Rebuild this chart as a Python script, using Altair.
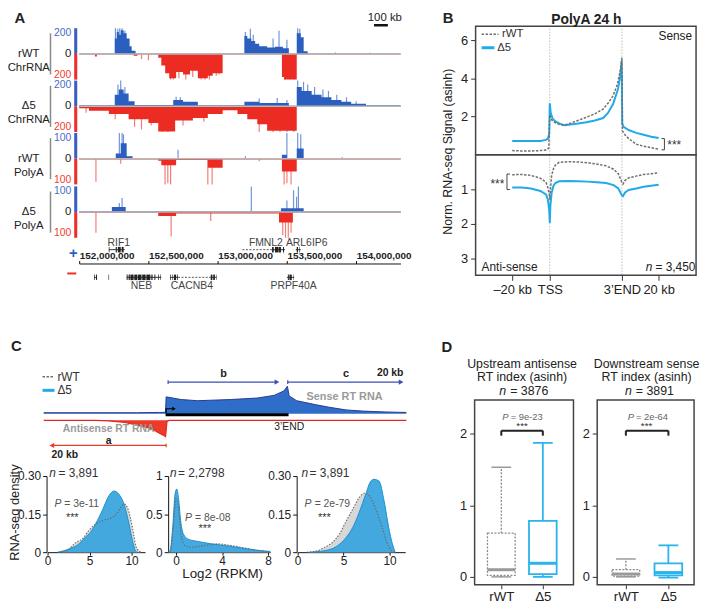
import altair as alt
import pandas as pd

W, H = 701, 598
FONT = 'Liberation Sans'
INK = '#222222'
A_BLUE, A_BLUE_LT = '#2b5fbf', '#6f95d8'
A_RED, A_RED_LT = '#ec2b22', '#f37d73'
CYAN = '#20aae8'
WTGRAY = '#6e6e6e'

# ===================== DATA =====================
# --- Panel A: browser signal; positions in Mb (chr2), heights in track units
WT_CHR_P_POS = [152.000, 152.257, 152.271, 152.286, 152.300, 152.321, 152.343, 152.364, 152.379, 152.407, 153.193, 153.214, 153.243, 153.271, 153.300, 153.357, 153.414, 153.471, 153.514, 153.571, 153.600, 153.621, 153.650, 154.321]
WT_CHR_P_VAL = [4, 120, 170, 150, 185, 160, 120, 60, 25, 4, 140, 120, 100, 80, 60, 50, 55, 45, 4, 160, 130, 20, 4, 4]
WT_CHR_P_SPK = [152.262, 152.279, 152.293, 152.310, 152.330, 153.200, 153.236, 153.257, 153.400, 153.443, 153.500, 153.578, 153.593, 153.850, 154.100]
WT_CHR_P_SPH = [200, 195, 200, 200, 180, 170, 195, 150, 120, 180, 110, 200, 195, 12, 10]
WT_CHR_M_POS = [152.000, 152.114, 152.128, 152.393, 152.421, 152.571, 152.593, 152.621, 152.650, 152.700, 152.750, 152.800, 152.857, 152.929, 152.964, 153.036, 153.464, 153.479, 153.571, 154.321]
WT_CHR_M_VAL = [4, 20, 4, 15, 4, 30, 90, 150, 190, 140, 160, 130, 190, 170, 150, 4, 180, 200, 4, 4]
WT_CHR_M_SPK = [152.450, 152.500, 152.660, 152.680, 152.720, 152.770, 152.820, 152.880, 152.910, 152.940, 152.990, 153.010, 153.490, 153.520, 153.550]
WT_CHR_M_SPH = [40, 50, 200, 200, 190, 200, 180, 200, 200, 200, 170, 160, 200, 200, 200]

D5_CHR_P_POS = [152.000, 152.257, 152.286, 152.321, 152.357, 152.400, 152.679, 152.750, 152.857, 153.193, 153.300, 153.514, 153.571, 153.607, 153.679, 153.750, 153.821, 153.893, 153.964, 154.071, 154.321]
D5_CHR_P_VAL = [8, 90, 130, 100, 40, 10, 50, 35, 8, 35, 25, 5, 150, 120, 90, 70, 50, 35, 20, 8, 8]
D5_CHR_P_SPK = [152.280, 152.300, 152.330, 152.700, 152.730, 153.300, 153.430, 153.500, 153.578, 153.620, 153.650, 153.700, 153.760, 153.800, 153.860, 153.930, 154.000]
D5_CHR_P_SPH = [170, 200, 150, 75, 70, 60, 65, 50, 200, 190, 170, 150, 130, 120, 90, 70, 40]
D5_CHR_M_POS = [152.000, 152.071, 152.214, 152.357, 152.500, 152.571, 152.693, 152.821, 152.929, 153.036, 153.143, 153.214, 153.286, 153.357, 153.571, 154.321]
D5_CHR_M_VAL = [15, 35, 60, 100, 130, 195, 110, 90, 60, 30, 60, 100, 140, 190, 5, 5]
D5_CHR_M_SPK = [152.050, 152.260, 152.400, 152.450, 152.520, 152.600, 152.640, 152.750, 152.900, 153.300, 153.400, 153.450, 153.500, 153.550]
D5_CHR_M_SPH = [50, 100, 160, 180, 150, 200, 200, 150, 120, 200, 200, 200, 200, 200]

WT_PA_P_POS = [152.000, 152.264, 152.300, 152.343, 152.386, 153.464, 153.500, 153.571, 153.621, 154.321]
WT_PA_P_VAL = [2, 20, 60, 10, 3, 15, 3, 40, 3, 3]
WT_PA_P_SPK = [152.290, 152.310, 152.320, 152.714, 153.200, 153.500, 153.578, 153.600, 153.900]
WT_PA_P_SPH = [100, 100, 95, 35, 10, 100, 100, 95, 6]
WT_PA_M_POS = [152.000, 152.571, 152.593, 152.700, 152.929, 153.036, 153.464, 153.571, 154.321]
WT_PA_M_VAL = [3, 8, 25, 5, 35, 3, 50, 3, 3]
WT_PA_M_SPK = [152.121, 152.300, 152.620, 152.640, 152.660, 152.929, 152.960, 153.300, 153.480, 153.500, 153.530]
WT_PA_M_SPH = [90, 20, 100, 95, 100, 100, 100, 10, 100, 95, 100]

D5_PA_P_POS = [152.000, 152.236, 152.336, 153.457, 153.621, 154.321]
D5_PA_P_VAL = [3, 20, 3, 15, 3, 3]
D5_PA_P_SPK = [152.290, 152.310, 153.243, 153.500, 153.548, 153.570, 153.583]
D5_PA_P_SPH = [35, 55, 100, 45, 85, 60, 100]
D5_PA_M_POS = [152.000, 152.571, 152.700, 153.443, 153.543, 154.321]
D5_PA_M_VAL = [3, 15, 5, 40, 3, 3]
D5_PA_M_SPK = [152.121, 152.664, 152.950, 153.470, 153.490, 153.510, 153.530]
D5_PA_M_SPH = [80, 95, 35, 90, 100, 100, 80]

TRACK_NAMES = [['rWT', 'ChrRNA'], ['Δ5', 'ChrRNA'], ['rWT', 'PolyA'], ['Δ5', 'PolyA']]
TRACK_MAX = [200, 200, 100, 100]

# genes (Mb); strand +1 / -1
INTRON_START = [152.214, 153.179, 153.393, 153.564, 152.107, 152.343, 152.657, 152.714, 152.950, 153.500]
INTRON_END = [152.329, 153.393, 153.486, 153.600, 152.129, 152.593, 152.714, 152.950, 152.993, 153.552]
INTRON_STRAND = [1, 1, 1, 1, -1, -1, -1, -1, -1, -1]
INTRON_DASHED = [0, 1, 0, 0, 0, 0, 0, 1, 0, 0]
EXON_START = [152.214, 152.264, 152.279, 152.307, 153.393, 153.414, 153.443, 153.472, 153.571, 153.590,
              152.107, 152.122, 152.212, 152.343, 152.357, 152.370, 152.398, 152.424, 152.455, 152.485, 152.521, 152.543, 152.571, 152.586,
              152.657, 152.672, 152.684, 152.707, 152.950, 152.968, 152.990, 153.507, 153.518, 153.545]
EXON_END = [152.219, 152.272, 152.300, 152.321, 153.405, 153.440, 153.457, 153.479, 153.580, 153.594,
            152.112, 152.129, 152.216, 152.350, 152.366, 152.393, 152.420, 152.450, 152.480, 152.514, 152.530, 152.550, 152.576, 152.590,
            152.662, 152.676, 152.700, 152.712, 152.962, 152.980, 152.993, 153.514, 153.535, 153.548]
EXON_STRAND = [1] * 10 + [-1] * 24
GENE_LABELS = ['RIF1', 'FMNL2', 'ARL6IP6', 'NEB', 'CACNB4', 'PRPF40A']
GENE_LABEL_POS = [152.286, 153.471, 153.493, 152.450, 152.814, 153.548]
GENE_LABEL_STRAND = [1, 1, 1, -1, -1, -1]
GENE_LABEL_ALIGN = ['center', 'right', 'left', 'center', 'center', 'center']

# --- Panel B: metagene profiles (x: -20..0 kb upstream, 0..38.4 scaled body, +20 kb downstream)
B_SENSE_WT_X = [-20, -15, -10, -5, -2, -0.5, 0, 0.5, 1.5, 3, 5, 7.4, 10, 15, 19.5, 24, 28.4, 31, 33.7, 36, 37.5, 38.4, 38.7, 40, 42, 46, 50, 54, 58]
B_SENSE_WT_Y = [0.22, 0.2, 0.2, 0.22, 0.25, 0.35, 2.1, 1.9, 1.78, 1.68, 1.6, 1.56, 1.62, 1.8, 1.97, 2.15, 2.4, 2.7, 3.1, 3.7, 4.4, 5.1, 1.25, 1.05, 0.85, 0.55, 0.45, 0.37, 0.3]
B_SENSE_D5_X = [-20, -10, -5, -2, -1, -0.3, 0, 0.5, 1.5, 3, 5, 7.4, 10, 15, 19.5, 24, 28.4, 31, 33.7, 36.3, 37.5, 38.3, 38.6, 39.5, 42, 46, 50, 54, 58]
B_SENSE_D5_Y = [0.72, 0.72, 0.72, 0.78, 0.85, 1.1, 2.7, 2.2, 1.9, 1.75, 1.65, 1.55, 1.58, 1.64, 1.71, 1.8, 1.93, 2.2, 2.66, 3.44, 4.1, 4.9, 1.6, 1.45, 1.3, 1.15, 1.05, 0.95, 0.88]
B_ANTI_WT_X = [-20, -15, -10, -5, -2, -1, -0.3, 0, 0.5, 1, 2, 3, 5, 10, 15, 20, 25, 30, 34, 36.5, 38.4, 39, 40, 42, 46, 50, 54, 58]
B_ANTI_WT_Y = [0.58, 0.57, 0.6, 0.68, 0.8, 0.95, 1.15, 1.3, 0.9, 0.6, 0.4, 0.3, 0.22, 0.2, 0.21, 0.23, 0.27, 0.32, 0.42, 0.55, 0.8, 0.85, 0.75, 0.67, 0.62, 0.57, 0.55, 0.52]
B_ANTI_D5_X = [-20, -15, -10, -5, -2, -1, -0.3, 0, 0.3, 1, 2, 3, 5, 10, 15, 20, 25, 30, 34, 36.5, 38.4, 39, 40, 42, 46, 50, 54, 58]
B_ANTI_D5_Y = [0.95, 0.95, 0.98, 1.05, 1.15, 1.3, 1.6, 1.98, 1.5, 1.1, 0.9, 0.82, 0.77, 0.76, 0.77, 0.78, 0.8, 0.82, 0.88, 0.98, 1.18, 1.2, 1.1, 1.02, 0.98, 0.93, 0.9, 0.87]
B_TICKS = [-20, 0, 38.4, 58]

# --- Panel C: schematic (kb-like units) and density curves
C_SENSE_X = [-21, -5, -1, 0, 0.1, 2.7, 5.5, 11.2, 15.8, 18.7, 20.4, 21.0, 21.3, 22.6, 26, 28.2, 31.1, 34, 38, 41.5]
C_SENSE_Y = [0.35, 0.35, 0.45, 0.5, 5.7, 4.8, 4.4, 4.8, 5.3, 6.2, 7.7, 9.3, 6.0, 4.4, 3.0, 2.2, 1.3, 0.9, 0.6, 0.45]
C_ANTI_X = [-21, -12, -9.8, -7, -4.7, -2.4, -1.3, -0.4, 0, 0.25, 0.6, 41.5]
C_ANTI_Y = [-2.2, -2.25, -2.4, -2.9, -3.9, -5.0, -6.3, -7.2, -7.7, -2.6, -2.25, -2.2]

C1_WT_X = [1.5, 2.2, 3.4, 4.15, 4.9, 5.7, 6.5, 7.7, 8.5, 9.1, 9.5, 10.1, 10.5, 10.9, 11.2]
C1_WT_Y = [0, 0.004, 0.039, 0.052, 0.085, 0.11, 0.124, 0.137, 0.163, 0.19, 0.176, 0.098, 0.026, 0.004, 0]
C1_D5_X = [1.2, 2.6, 3.75, 4.5, 5.1, 5.7, 6.5, 7.3, 7.9, 8.5, 9.1, 9.7, 10.1, 10.5, 10.7]
C1_D5_Y = [0, 0.013, 0.033, 0.059, 0.078, 0.11, 0.163, 0.222, 0.241, 0.228, 0.189, 0.11, 0.046, 0.004, 0]
C2_WT_X = [-0.6, -0.5, -0.23, 0, 0.2, 0.43, 0.77, 1.35, 2.5, 3.6, 4.8, 5.9, 7.1, 7.9, 8.2]
C2_WT_Y = [0, 0.01, 0.37, 0.7, 0.59, 0.24, 0.087, 0.065, 0.087, 0.109, 0.087, 0.057, 0.022, 0.009, 0.005]
C2_D5_X = [-0.7, -0.52, -0.29, -0.09, 0.06, 0.2, 0.4, 0.63, 1.06, 1.92, 3.07, 4.8, 6.2, 7.9, 8.2]
C2_D5_Y = [0, 0.02, 0.33, 0.76, 0.83, 0.72, 0.41, 0.24, 0.17, 0.14, 0.11, 0.074, 0.043, 0.013, 0.01]
C3_WT_X = [1.0, 2.0, 3.1, 3.8, 4.55, 5.3, 6.0, 6.7, 7.24, 7.78, 8.5, 9.2, 9.7, 10.3, 10.6]
C3_WT_Y = [0, 0.004, 0.022, 0.039, 0.072, 0.124, 0.17, 0.215, 0.232, 0.222, 0.17, 0.098, 0.039, 0.004, 0]
C3_D5_X = [1.3, 3.1, 4.2, 5.3, 6.0, 6.7, 7.4, 7.96, 8.3, 8.85, 9.4, 9.9, 10.3, 10.6]
C3_D5_Y = [0, 0.007, 0.022, 0.059, 0.098, 0.157, 0.228, 0.28, 0.287, 0.28, 0.202, 0.098, 0.033, 0]
C_N = ['3,891', '2,2798', '3,891']
C_P = ['3e-11', '8e-08', '2e-79']

# --- Panel D: box plot summaries
D_GROUPS = ['rWT', 'Δ5']
D_UP_MIN = [0.0, 0.0]
D_UP_Q1 = [0.02, 0.04]
D_UP_MED = [0.10, 0.19]
D_UP_Q3 = [0.61, 0.78]
D_UP_MAX = [1.53, 1.87]
D_DN_MIN = [0.0, -0.01]
D_DN_Q1 = [0.01, 0.02]
D_DN_MED = [0.04, 0.06]
D_DN_Q3 = [0.10, 0.19]
D_DN_MAX = [0.25, 0.44]
D_N = ['3876', '3891']
D_P = ['9e-23', '2e-64']
D_TITLES = [['Upstream antisense', 'RT index (asinh)'], ['Downstream sense', 'RT index (asinh)']]

# ===================== HELPERS =====================
def sc(d, r):
    return alt.Scale(domain=list(d), range=[r[0] - 8, r[1] - 8], nice=False, zero=False)

def pscale(dom, r):
    return alt.Scale(type='point', domain=list(dom), range=[r[0] - 8, r[1] - 8], padding=0)

def ax(orient, pos, values, **kw):
    off = (pos - 8) - H if orient == 'bottom' else -(pos - 8)
    a = dict(orient=orient, offset=off, values=values, title='', grid=False, labelFont=FONT,
             labelFontSize=12, labelColor=INK, tickColor='#333333', domainColor='#333333',
             labelFlush=False, labelOverlap=False, tickSize=5, labelPadding=2, labelAngle=0)
    a.update(kw)
    return alt.Axis(**a)

layers = []

def add(df, mark, sx, sy, x='x', y='y', x2=None, y2=None, xtype='Q', xaxis=None, yaxis=None, **extra):
    enc = dict(x=alt.X(f'{x}:{xtype}', scale=sx, axis=xaxis),
               y=alt.Y(f'{y}:Q', scale=sy, axis=yaxis))
    if x2:
        enc['x2'] = alt.X2(x2)
    if y2:
        enc['y2'] = alt.Y2(y2)
    enc.update(extra)
    layers.append(alt.Chart(pd.DataFrame(df), mark=alt.MarkDef(**mark)).encode(**enc))

def text(sx, sy, x, y, t, **kw):
    m = dict(type='text', text=t, font=FONT, fontSize=12, color=INK, align='center', baseline='middle')
    m.update(kw)
    add({'x': [x], 'y': [y]}, m, sx, sy)

def hline(sx, sy, x0, x1, y, **kw):
    m = dict(type='rule', color=INK, strokeWidth=1)
    m.update(kw)
    add({'x': [x0], 'x2': [x1], 'y': [y]}, m, sx, sy, x2='x2')

def vline(sx, sy, x, y0, y1, **kw):
    m = dict(type='rule', color=INK, strokeWidth=1)
    m.update(kw)
    add({'x': [x], 'y': [y0], 'y2': [y1]}, m, sx, sy, y2='y2')

# ===================== PANEL A =====================
XA = sc((152.0, 154.32), (80, 405))
TRACK_PX = [(25, 77), (78, 130), (131, 183), (185, 237)]
SIGNALS = [
    (WT_CHR_P_POS, WT_CHR_P_VAL, WT_CHR_P_SPK, WT_CHR_P_SPH, WT_CHR_M_POS, WT_CHR_M_VAL, WT_CHR_M_SPK, WT_CHR_M_SPH),
    (D5_CHR_P_POS, D5_CHR_P_VAL, D5_CHR_P_SPK, D5_CHR_P_SPH, D5_CHR_M_POS, D5_CHR_M_VAL, D5_CHR_M_SPK, D5_CHR_M_SPH),
    (WT_PA_P_POS, WT_PA_P_VAL, WT_PA_P_SPK, WT_PA_P_SPH, WT_PA_M_POS, WT_PA_M_VAL, WT_PA_M_SPK, WT_PA_M_SPH),
    (D5_PA_P_POS, D5_PA_P_VAL, D5_PA_P_SPK, D5_PA_P_SPH, D5_PA_M_POS, D5_PA_M_VAL, D5_PA_M_SPK, D5_PA_M_SPH),
]
for i in range(4):
    V = TRACK_MAX[i]
    top, bot = TRACK_PX[i]
    YT = sc((-V, V), (bot, top))
    pp, pv, sp, sh, mp, mv, msp, msh = SIGNALS[i]
    add({'x': sp, 'y': sh, 'z': [0] * len(sp)}, dict(type='rule', color=A_BLUE_LT, strokeWidth=1.2), XA, YT, y2='z')
    add({'x': msp, 'y': [-v for v in msh], 'z': [0] * len(msp)}, dict(type='rule', color=A_RED_LT, strokeWidth=1.2), XA, YT, y2='z')
    add({'x': pp, 'y': pv, 'z': [0] * len(pp)}, dict(type='area', interpolate='step-after', color=A_BLUE), XA, YT, y2='z')
    add({'x': mp, 'y': [-v for v in mv], 'z': [0] * len(mp)}, dict(type='area', interpolate='step-after', color=A_RED), XA, YT, y2='z')
    hline(XA, YT, 152.0, 154.32, 0, color='#b9b9b9', strokeWidth=1.5)
    add({'x': [151.964], 'x2': [151.986], 'y': [0], 'y2': [V]}, dict(type='rect', color='#3a5fc0'), XA, YT, x2='x2', y2='y2')
    add({'x': [151.964], 'x2': [151.986], 'y': [-V], 'y2': [0]}, dict(type='rect', color='#ee2e24'), XA, YT, x2='x2', y2='y2')
    text(XA, YT, 151.943, 0.82 * V, str(V), align='right', color='#4a6cc8', fontSize=10.5)
    text(XA, YT, 151.943, 0, '0', align='right', fontSize=11.5)
    text(XA, YT, 151.943, -0.82 * V, str(V), align='right', color='#f0402e', fontSize=10.5)
    text(XA, YT, 151.636, 0, TRACK_NAMES[i], fontSize=11.5, lineHeight=14)
    vline(XA, YT, 151.793, -0.8 * V, 0.8 * V, color='#8a8a8a', strokeWidth=1.5)
    if i == 0:
        text(XA, YT, 151.571, 277, 'A', fontSize=15, fontWeight='bold')
        text(XA, YT, 154.207, 277, '100 kb', fontSize=11.5)
        hline(XA, YT, 154.129, 154.229, 223, strokeWidth=2.5, color='#111111')

YG = sc((-1, 1), (277, 249))
solid = [k for k in range(len(INTRON_START)) if not INTRON_DASHED[k]]
dashed = [k for k in range(len(INTRON_START)) if INTRON_DASHED[k]]
add({'x': [INTRON_START[k] for k in solid], 'x2': [INTRON_END[k] for k in solid], 'y': [INTRON_STRAND[k] for k in solid]},
    dict(type='rule', color='#333333', strokeWidth=1), XA, YG, x2='x2',
    xaxis=ax('top', 263, [152.0, 152.5, 153.0, 153.5, 154.0], labelAlign='left',
             labelExpr="format(datum.value * 1000000, ',.0f')", labelFontSize=10, labelFontWeight='bold',
             tickSize=3, labelPadding=0, domainColor='#111111', tickColor='#111111'))
add({'x': [INTRON_START[k] for k in dashed], 'x2': [INTRON_END[k] for k in dashed], 'y': [INTRON_STRAND[k] for k in dashed]},
    dict(type='rule', color='#555555', strokeWidth=1, strokeDash=[2, 1.5]), XA, YG, x2='x2')
add({'x': EXON_START, 'x2': EXON_END, 'y': [s - 0.2 for s in EXON_STRAND], 'y2': [s + 0.2 for s in EXON_STRAND]},
    dict(type='rect', color='#222222'), XA, YG, x2='x2', y2='y2')
for k in range(len(GENE_LABELS)):
    text(XA, YG, GENE_LABEL_POS[k], 1.5 if GENE_LABEL_STRAND[k] > 0 else -1.64, GENE_LABELS[k],
         fontSize=10.5, color='#444444', align=GENE_LABEL_ALIGN[k])
text(XA, YG, 151.957, 0.79, '+', fontSize=15, fontWeight='bold', color='#2d5fc0')
hline(XA, YG, 151.914, 151.979, -0.72, color='#ee2e24', strokeWidth=2)

# ===================== PANEL B =====================
XB = sc((-39.5, 77.9), (481, 704))
YBU = sc((0, 6.75), (153, 23))
YBL = sc((0, 3.5), (153, 275))
for xv in (0, 38.4):
    vline(XB, YBU, xv, 0, 6.75, color='#bdbdbd', strokeDash=[1.5, 1.5])
    vline(XB, YBL, xv, 0, 3.5, color='#bdbdbd', strokeDash=[1.5, 1.5])
add({'x': B_SENSE_D5_X, 'y': B_SENSE_D5_Y}, dict(type='line', color=CYAN, strokeWidth=2), XB, YBU)
add({'x': B_SENSE_WT_X, 'y': B_SENSE_WT_Y}, dict(type='line', color=WTGRAY, strokeWidth=1.5, strokeDash=[2.5, 1.5]), XB, YBU)
add({'x': B_ANTI_D5_X, 'y': B_ANTI_D5_Y}, dict(type='line', color=CYAN, strokeWidth=2), XB, YBL)
add({'x': B_ANTI_WT_X, 'y': B_ANTI_WT_Y}, dict(type='line', color=WTGRAY, strokeWidth=1.5, strokeDash=[2.5, 1.5]), XB, YBL)
add({'x': [-39.5], 'x2': [77.9], 'y': [0], 'y2': [6.75]},
    dict(type='rect', fill='white', fillOpacity=0, stroke='#444444', strokeWidth=1.5), XB, YBU, x2='x2', y2='y2',
    yaxis=ax('left', 481, [2, 4, 6], labelFontSize=13, domain=False, labelPadding=3))
add({'x': [-39.5], 'x2': [77.9], 'y': [0], 'y2': [3.5]},
    dict(type='rect', fill='white', fillOpacity=0, stroke='#444444', strokeWidth=1.5), XB, YBL, x2='x2', y2='y2',
    yaxis=ax('left', 481, [1, 2, 3], labelFontSize=13, domain=False, labelPadding=3),
    xaxis=ax('bottom', 275, B_TICKS, labelFontSize=13, domain=False, labelPadding=3,
             labelExpr="datum.value == -20 ? '–20 kb' : datum.value == 0 ? 'TSS' : datum.value < 50 ? '3’END' : '20 kb'"))
text(XB, YBU, -54.2, 7.17, 'B', fontSize=15, fontWeight='bold')
text(XB, YBU, 19.5, 7.08, 'PolyA 24 h', fontSize=14, fontWeight='bold')
text(XB, YBU, -54.2, 0.16, 'Norm. RNA-seq Signal (asinh)', fontSize=12.5, angle=270)
hline(XB, YBU, -36.3, -27.3, 6.33, color=WTGRAY, strokeWidth=1.5, strokeDash=[2.5, 1.5])
text(XB, YBU, -25.4, 6.33, 'rWT', fontSize=11.5, align='left', color='#333333')
hline(XB, YBU, -36.3, -29.5, 5.62, color=CYAN, strokeWidth=3)
text(XB, YBU, -28.0, 5.62, 'Δ5', fontSize=11.5, align='left', color='#333333')
text(XB, YBU, 75.8, 6.21, 'Sense', fontSize=12, align='right')
text(XB, YBL, -36.3, 3.27, 'Anti-sense', fontSize=12, align='left')
text(XB, YBL, 54.6, 3.27, 'n', fontSize=12, fontStyle='italic', align='right')
text(XB, YBL, 56.3, 3.27, '= 3,450', fontSize=12, align='left')
vline(XB, YBU, 61.05, 0.26, 0.85, color='#444444')
hline(XB, YBU, 59.5, 61.05, 0.26, color='#444444')
hline(XB, YBU, 59.5, 61.05, 0.85, color='#444444')
text(XB, YBU, 62.6, 0.5, '***', fontSize=12, align='left', color='#333333')
vline(XB, YBL, -22.8, 0.56, 1.01, color='#444444')
hline(XB, YBL, -22.8, -21.2, 0.56, color='#444444')
hline(XB, YBL, -22.8, -21.2, 1.01, color='#444444')
text(XB, YBL, -24.2, 0.84, '***', fontSize=12, align='right', color='#333333')

# ===================== PANEL C : schematic =====================
XS = sc((-20, 41), (50, 408))
YS = sc((0, 10), (415, 385))
add({'x': C_ANTI_X, 'y': C_ANTI_Y, 'z': [-2.2] * len(C_ANTI_X)}, dict(type='area', color='#ee3a2b'), XS, YS, y2='z')
add({'x': C_ANTI_X, 'y': C_ANTI_Y}, dict(type='line', color='#e0281c', strokeWidth=1.2), XS, YS)
add({'x': C_SENSE_X, 'y': C_SENSE_Y, 'z': [0] * len(C_SENSE_X)}, dict(type='area', color='#2f6ec8'), XS, YS, y2='z')
add({'x': C_SENSE_X, 'y': C_SENSE_Y}, dict(type='line', color='#2a3a90', strokeWidth=1), XS, YS)
add({'x': [0], 'x2': [21.2], 'y': [-0.8], 'y2': [0.2]}, dict(type='rect', color='#000000'), XS, YS, x2='x2', y2='y2')
add({'x': [0.1, 0.1, 1.2], 'y': [0.2, 1.7, 1.7], 'o': [0, 1, 2]}, dict(type='line', color='#000000', strokeWidth=1.2), XS, YS,
    order=alt.Order('o:Q'))
add({'x': [1.45], 'y': [1.7]}, dict(type='point', shape='triangle-right', filled=True, color='#000000', size=18, opacity=1), XS, YS)
ARROW_B = '#3d4fb5'
for (x0, x1, yy, col, shp) in [(0.44, 19.2, 10.67, ARROW_B, 'triangle-right'), (21.06, 40.6, 10.67, ARROW_B, 'triangle-right'),
                               (0.1, -19.6, -10.67, '#ee3a2b', 'triangle-left')]:
    hline(XS, YS, x0, x1, yy, color=col, strokeWidth=1.2)
    vline(XS, YS, x0, yy - 0.6, yy + 0.6, color=col, strokeWidth=1.2)
    add({'x': [x1], 'y': [yy]}, dict(type='point', shape=shp, filled=True, color=col, size=30, opacity=1), XS, YS)
text(XS, YS, 9.98, 13.3, 'b', fontSize=11, fontWeight='bold')
text(XS, YS, 31.1, 13.3, 'c', fontSize=11, fontWeight='bold')
text(XS, YS, 41, 13.7, '20 kb', fontSize=10.5, fontWeight='bold', align='right')
text(XS, YS, -9.8, -9.3, 'a', fontSize=10.5, fontWeight='bold')
text(XS, YS, -19.66, -13.9, '20 kb', fontSize=10.5, fontWeight='bold', align='left')
text(XS, YS, -9.8, -5.3, 'Antisense RT RNA', fontSize=10.5, fontWeight='bold', color='#9a9a9a')
text(XS, YS, 30.85, 5.78, 'Sense RT RNA', fontSize=11, fontWeight='bold', color='#9a9a9a')
text(XS, YS, 21.3, -4.4, '3’END', fontSize=10.5)
hline(XS, YS, -21.2, -19.15, 12.5, color=WTGRAY, strokeWidth=1.5, strokeDash=[2.5, 1.5])
text(XS, YS, -18.64, 12.5, 'rWT', fontSize=12, align='left', color='#333333')
hline(XS, YS, -21.2, -19.15, 7.9, color=CYAN, strokeWidth=3)
text(XS, YS, -18.64, 7.9, 'Δ5', fontSize=12, align='left', color='#333333')
text(XS, YS, -25.7, 22.7, 'C', fontSize=15, fontWeight='bold')

# ===================== PANEL C : densities =====================
YC01 = sc((0, 0.3), (555, 478))
YC1 = sc((0, 1), (555, 478))
DENS = [
    (sc((0, 11.6), (48, 146.6)), YC01, C1_WT_X, C1_WT_Y, C1_D5_X, C1_D5_Y, 47, [0, 0.15, 0.3], [0, 5, 10],
     "datum.value == 0 ? '0' : format(datum.value, '.2f')", (0.2, 1.3, 0.312), (0.82, 2.0, 0.19), (2.94, 0.134)),
    (sc((-0.7, 8.2), (169.9, 273.3)), YC1, C2_WT_X, C2_WT_Y, C2_D5_X, C2_D5_Y, 170, [0, 0.5, 1], [0, 4, 8],
     "datum.value == 0.5 ? '0.5' : format(datum.value, 'd')", (-0.52, 0.17, 1.04), (0.78, 1.65, 0.45), (2.5, 0.31)),
    (sc((0, 11.7), (301, 409.8)), YC01, C3_WT_X, C3_WT_Y, C3_D5_X, C3_D5_Y, 300, [0, 0.15, 0.3], [0, 5, 10],
     "datum.value == 0 ? '0' : format(datum.value, '.2f')", (0.43, 1.29, 0.312), (0.75, 1.85, 0.19), (2.9, 0.134)),
]
for j, (XC, YC, wx, wy, dx, dy, axpos, yv, xv, yexpr, npos, ppos, spos) in enumerate(DENS):
    add({'x': wx, 'y': wy, 'z': [0] * len(wx)}, dict(type='area', interpolate='monotone', color='#d7d7d7'), XC, YC, y2='z',
        xaxis=ax('bottom', 555, xv, domainColor='#111111', tickColor='#111111', tickSize=3, labelPadding=0),
        yaxis=ax('left', axpos, yv, labelExpr=yexpr, domainColor='#111111', tickColor='#111111', tickSize=4))
    add({'x': dx, 'y': dy, 'z': [0] * len(dx)}, dict(type='area', interpolate='monotone', color='#3aa5dd', opacity=0.95), XC, YC, y2='z')
    add({'x': dx, 'y': dy}, dict(type='line', interpolate='monotone', color='#1c8fd0', strokeWidth=1), XC, YC)
    add({'x': wx, 'y': wy}, dict(type='line', interpolate='monotone', color='#6a6a6a', strokeWidth=1.1, strokeDash=[1.5, 1.5]), XC, YC)
    text(XC, YC, npos[0], npos[2], 'n', fontSize=12, fontStyle='italic', align='left', color='#333333')
    text(XC, YC, npos[1], npos[2], '= ' + C_N[j], fontSize=12, align='left', color='#333333')
    text(XC, YC, ppos[0], ppos[2], 'P', fontSize=10.5, fontStyle='italic', align='left', color='#555555')
    text(XC, YC, ppos[1], ppos[2], '= ' + C_P[j], fontSize=10.5, align='left', color='#555555')
    text(XC, YC, spos[0], spos[1], '***', fontSize=11, color='#333333')
    if j == 0:
        text(XC, YC, -3.9, 0.156, 'RNA-seq density', fontSize=13, angle=270)
    if j == 1:
        text(XC, YC, 4.05, -0.29, 'Log2 (RPKM)', fontSize=13.5)

# ===================== PANEL D =====================
YD = sc((0, 2), (580, 435))
D_PANELS = [
    (sc((0, 1), (480, 580)), pscale(D_GROUPS, (507, 549)), 480, D_UP_MIN, D_UP_Q1, D_UP_MED, D_UP_Q3, D_UP_MAX,
     (0.27, 0.69), 0.48, (0.25, 0.36), (0.28, 0.365)),
    (sc((0, 1), (604, 702)), pscale(D_GROUPS, (633, 676)), 604, D_DN_MIN, D_DN_Q1, D_DN_MED, D_DN_Q3, D_DN_MAX,
     (0.296, 0.735), 0.51, (0.286, 0.398), (0.316, 0.40)),
]
for j, (XF, XP, axpos, mn, q1, md, q3, mx, br, cx, npos, ppos) in enumerate(D_PANELS):
    add({'x': [0], 'x2': [1], 'y': [-0.11], 'y2': [2.469]},
        dict(type='rect', fill='white', fillOpacity=0, stroke='#444444', strokeWidth=1.5), XF, YD, x2='x2', y2='y2',
        yaxis=ax('left', axpos, [0, 1, 2], labelFontSize=13, domain=False, labelPadding=3,
                 labelExpr="format(datum.value, 'd')"))
    for g in range(2):
        col = '#8a8a8a' if g == 0 else '#28b4ec'
        dash = dict(strokeDash=[2, 1.5]) if g == 0 else {}
        sw = 1.3 if g == 0 else 1.8
        gname = [D_GROUPS[g]]
        add({'g': gname * 2, 'y': [q3[g], mn[g]], 'y2': [mx[g], q1[g]]}, dict(type='rule', color=col, strokeWidth=sw, **dash),
            XP, YD, x='g', xtype='N', y2='y2')
        xa = ax('bottom', 588, D_GROUPS, labelFontSize=13.5, domain=False, tickSize=4, labelPadding=1) if g == 0 else None
        add({'g': gname, 'y': [q1[g]], 'y2': [q3[g]]}, dict(type='bar', size=28, fill='white', stroke=col, strokeWidth=sw, **dash),
            XP, YD, x='g', xtype='N', y2='y2', xaxis=xa)
        add({'g': gname * 2, 'y': [mn[g], mx[g]]}, dict(type='tick', size=20, thickness=sw, color=col, opacity=1, **dash),
            XP, YD, x='g', xtype='N')
        add({'g': gname, 'y': [md[g]]}, dict(type='tick', size=28, thickness=3, color='#999999' if g == 0 else col, opacity=1),
            XP, YD, x='g', xtype='N')
    hline(XF, YD, br[0], br[1], 2.04, strokeWidth=2, color='#222222')
    vline(XF, YD, br[0], 1.97, 2.04, strokeWidth=2, color='#222222')
    vline(XF, YD, br[1], 1.97, 2.04, strokeWidth=2, color='#222222')
    text(XF, YD, ppos[0], 2.234, 'P', fontSize=9.5, fontStyle='italic', align='left', color='#666666')
    text(XF, YD, ppos[1], 2.234, '= ' + D_P[j], fontSize=9.5, align='left', color='#666666')
    text(XF, YD, cx, 2.1, '***', fontSize=10, color='#333333')
    text(XF, YD, cx, 2.966, D_TITLES[j][0], fontSize=12.5)
    text(XF, YD, cx, 2.786, D_TITLES[j][1], fontSize=12.5)
    text(XF, YD, npos[0], 2.593, 'n', fontSize=12.5, fontStyle='italic', align='left')
    text(XF, YD, npos[1], 2.593, '= ' + D_N[j], fontSize=12.5, align='left')
    if j == 0:
        text(XF, YD, -0.28, 3.21, 'D', fontSize=15, fontWeight='bold')

chart = alt.layer(*layers).resolve_scale(x='independent', y='independent').resolve_axis(
    x='independent', y='independent').properties(
    width=W, height=H, autosize=alt.AutoSizeParams(type='none'), padding=0
).configure(font=FONT).configure_view(strokeWidth=0)

chart.save("out.html", embed_options={"renderer": "svg", "actions": False})
